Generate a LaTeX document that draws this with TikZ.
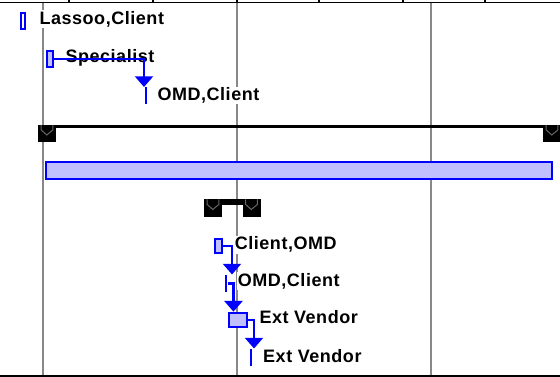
\documentclass[tikz,border=0pt]{standalone}
\usepackage{fontspec}
\setmainfont{Liberation Sans}[LetterSpace=3]
\usetikzlibrary{arrows.meta}
\definecolor{taskblue}{RGB}{0,0,255}
\definecolor{taskfill}{RGB}{192,192,255}
\definecolor{gridgray}{RGB}{136,136,136}
\tikzset{every picture/.style={line width=0.75pt},
  task/.style={draw=taskblue, fill=taskfill, line width=1.5pt, inner sep=0pt},
  mile/.style={fill=taskblue, inner sep=0pt, minimum width=1.6pt, minimum height=12.75pt},
  sumend/.style={fill=black, inner sep=0pt, minimum width=13.5pt, minimum height=12.75pt},
  chev/.style={draw=black!60, line width=0.75pt},
  link/.style={draw=taskblue, line width=1.6pt, -{Triangle[width=13.5pt,length=8pt]}},
  lbl/.style={anchor=base west, inner sep=0.75pt, fill=white, font=\bfseries\fontsize{13.5}{16}\selectfont},
  gridline/.style={draw=gridgray, line width=1.3pt}}

\begin{document}
\begin{tikzpicture}[x=0.75pt,y=0.75pt,yscale=-1,xscale=1]
\useasboundingbox (0,0) rectangle (560,377);

%Straight Lines: time grid
\foreach \gx in {43,237,431} \draw[gridline] (\gx,2) -- (\gx,376);
%Straight Lines: header and foot
\draw[line width=1.4pt] (0,2.5) -- (560,2.5);
\foreach \tx in {69,153,237,319,403,485} \draw[line width=1.4pt] (\tx,0) -- (\tx,3);
\draw[line width=1.6pt] (0,376) -- (560,376);

%Shape: Task
\node[task, fill=white, minimum width=3.5pt, minimum height=12.5pt] (lasso) at (23,21) {};
% Text Node
\node[lbl] (lassoLbl) at (38,24.3) {Lassoo,Client};

%Shape: Task
\node[task, minimum width=5pt, minimum height=12.5pt] (spec) at (50,59) {};
% Text Node
\node[lbl] (specLbl) at (64,62.7) {Specialist};
%Shape: Milestone
\node[mile] (omdA) at (146,96) {};
% Text Node
\node[lbl] (omdALbl) at (156,100.7) {OMD,Client};
%Straight Lines: link
\draw[link] (spec.east) -| ([xshift=-1.5pt]omdA.north);

%Shape: Summary
\node[sumend] (sumAl) at (47,134) {};
\node[sumend] (sumAr) at (552,134) {};
\path (sumAr.north east) ++(0,3.5) coordinate (sumAbar);
\fill (sumAl.north west) rectangle (sumAbar);

%Shape: Task
\node[task, minimum width=380pt, minimum height=13.25pt] (longTask) at (299,170.5) {};

%Shape: Summary
\node[sumend] (sumBl) at (213,208.5) {};
\node[sumend] (sumBr) at (251.5,208.5) {};
\path (sumBr.north east) ++(0,6) coordinate (sumBbar);
\fill (sumBl.north west) rectangle (sumBbar);

\foreach \s in {sumAl,sumAr,sumBl,sumBr}
  \draw[chev] (\s.north west) ++(3.7,0) -- ++(0,5) -- ++(5.6,5) -- ++(6,-5) -- ++(0,-5);

%Shape: Task
\node[task, minimum width=5.75pt, minimum height=11pt] (cliOmd) at (218.5,246) {};
% Text Node
\node[lbl] (cliOmdLbl) at (233.3,250) {Client,OMD};
%Shape: Milestone
\node[mile] (omdB) at (226,283.5) {};
% Text Node
\node[lbl] (omdBLbl) at (236.3,286.5) {OMD,Client};
%Shape: Task
\node[task, minimum width=14pt, minimum height=11pt] (extA) at (238,320) {};
% Text Node
\node[lbl] (extALbl) at (258,324) {Ext Vendor};
%Shape: Milestone
\node[mile] (extB) at (251,357.5) {};
% Text Node
\node[lbl] (extBLbl) at (261.7,362.5) {Ext Vendor};

%Straight Lines: links
\draw[link] (cliOmd.east) -| ([xshift=4.5pt]omdB.north);
\draw[link] (omdB.east) -| ([xshift=-3.4pt]extA.north);
\draw[link] (extA.east) -| ([xshift=2.25pt]extB.north);
\end{tikzpicture}
\end{document}
